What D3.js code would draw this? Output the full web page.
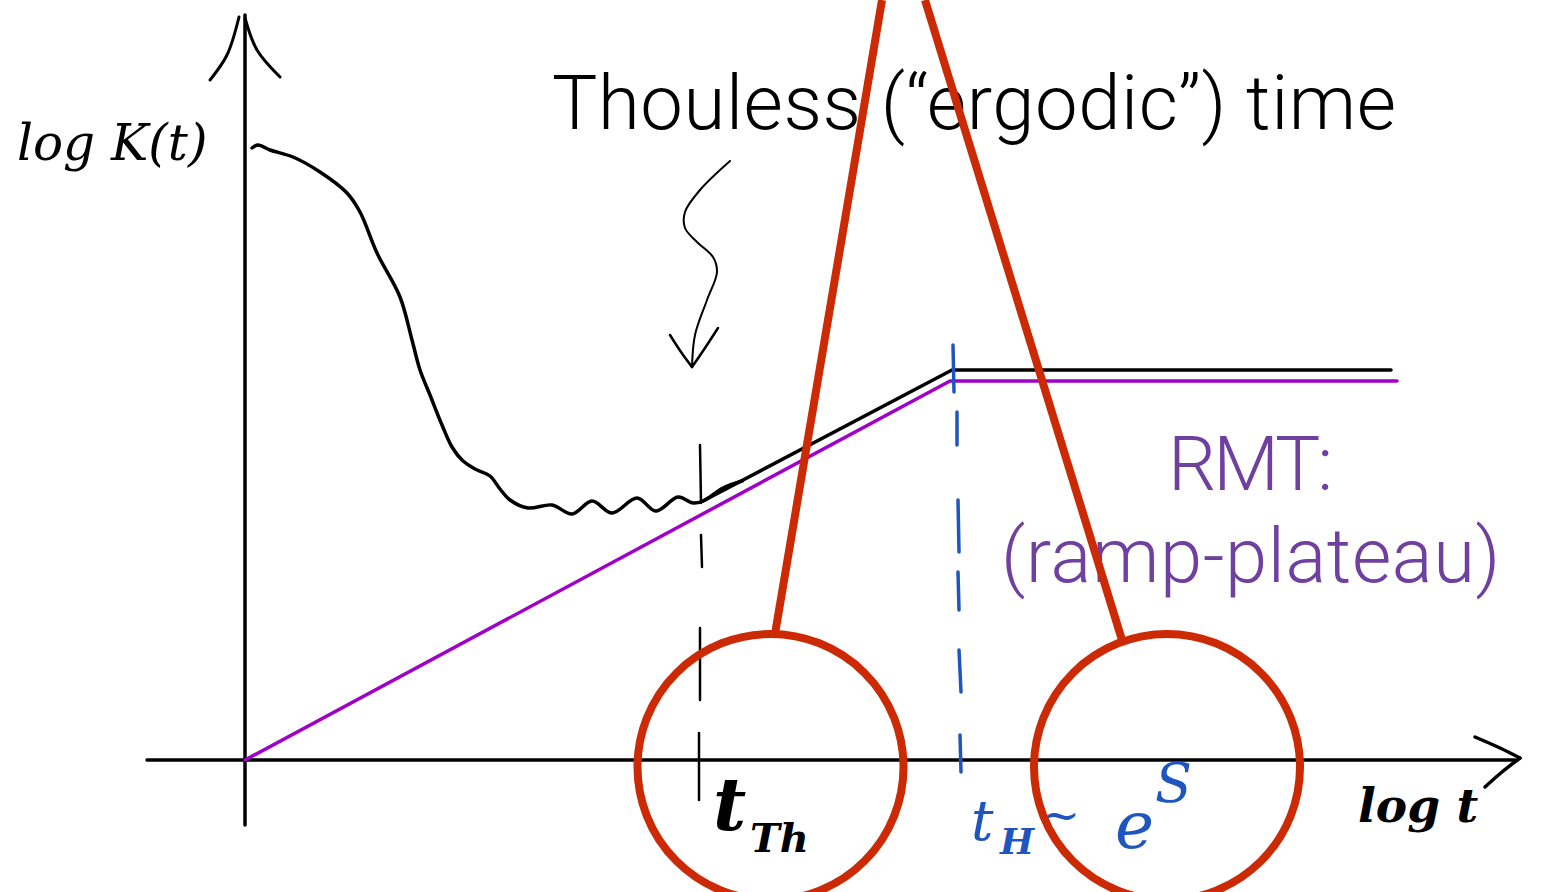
<!DOCTYPE html>
<html><head><meta charset="utf-8">
<script src="https://cdn.jsdelivr.net/npm/d3@7"></script>
<style>html,body{margin:0;padding:0;background:#fff;overflow:hidden}svg{display:block}</style>
</head><body><svg id="c" width="1544" height="892"></svg>
<script>
// All values are [log t, log K] in the sketch's arbitrary units.
const spectralCurve=[[7,612],[13,615],[25,610],[48,603],[75,588],[102,567],[115,548],[132,507],[155,463],[167,420],[175,390],[185,365],[197,335],[207,313],[217,300],[230,291],[245,284],[255,271],[265,260],[283,252],[307,255],[327,246],[347,259],[367,247],[392,262],[411,249],[433,263],[448,257],[458,259],[478,272],[497,279]];
const rampPlateauBlack=[[458,259],[707,390],[1146,390]];
const rmtPurple=[[0,0],[705,379],[1152,379]];
const axisY=[[0,-65],[0,745]];
const axisX=[[-98,0],[1270,0]];
const arrowY=[[[-35,680],[-18,705],[-6,743]],[[0,742],[12,710],[35,683]]];
const arrowX=[[[1230,23],[1255,12],[1275,2]],[[1240,-27],[1257,-12],[1275,2]]];
const thoulessDash=[[[455,315],[456,257]],[[456,225],[457,193]],[[455,132],[455,60]],[[454,27],[454,-40]]];
const heisenbergDash=[[[708,415],[709,368]],[[712,348],[712,315]],[[713,260],[714,208]],[[713,188],[714,150]],[[714,110],[716,68]],[[715,25],[716,-12]]];
const wavyArrow=[[485,599],[455,570],[440,548],[440,532],[452,518],[468,503],[472,488],[462,460],[450,425],[447,393]];
const wavyHead=[[[425,425],[436,408],[447,393]],[[473,432],[460,412],[447,393]]];
const redLines=[[[637,760],[530,126]],[[680,760],[877,120]]];
const redCircles=[{x:525.5,y:-7},{x:922,y:-7}];
const redRadius=133;
const titleText="Thouless (“ergodic”) time";
const rmtLabels=["RMT:","(ramp-plateau)"];

const W=1544,H=892;
const x=d3.scaleLinear().domain([-245,1299]).range([0,W]);
const y=d3.scaleLinear().domain([-132,760]).range([H,0]);
const svg=d3.select("#c");
const smooth=d3.line().x(d=>x(d[0])).y(d=>y(d[1])).curve(d3.curveCatmullRom.alpha(0.5));
const straight=d3.line().x(d=>x(d[0])).y(d=>y(d[1]));
const stroke=(sel,col,w)=>sel.attr("fill","none").attr("stroke",col).attr("stroke-width",w).attr("stroke-linecap","round").attr("stroke-linejoin","round");

const BLACK="#000",PURPLE="#a000c8",BLUE="#1f55c0",RED="#cc2a05",TXT="#7040a0";
// axes
svg.append("path").attr("d",straight(axisY)).call(stroke,BLACK,3.5);
svg.append("path").attr("d",straight(axisX)).call(stroke,BLACK,3.5);
arrowY.forEach(a=>svg.append("path").attr("d",smooth(a)).call(stroke,BLACK,3));
arrowX.forEach(a=>svg.append("path").attr("d",smooth(a)).call(stroke,BLACK,3.5));
// series
svg.append("path").attr("d",straight(rmtPurple)).call(stroke,PURPLE,3.5);
svg.append("path").attr("d",straight(rampPlateauBlack)).call(stroke,BLACK,3.5);
svg.append("path").attr("d",smooth(spectralCurve)).call(stroke,BLACK,3.5);
// dashes
thoulessDash.forEach(a=>svg.append("path").attr("d",straight(a)).call(stroke,BLACK,2.5));
heisenbergDash.forEach(a=>svg.append("path").attr("d",straight(a)).call(stroke,BLUE,3.5));
// wavy arrow
svg.append("path").attr("d",smooth(wavyArrow)).call(stroke,BLACK,2);
wavyHead.forEach(a=>svg.append("path").attr("d",smooth(a)).call(stroke,BLACK,2.5));
// big text
const big=(t,px,py,col,ls)=>svg.append("text").attr("x",px).attr("y",py).attr("fill",col)
  .attr("font-family","Roboto, 'Liberation Sans', sans-serif").attr("font-weight",300).attr("font-size",76).attr("letter-spacing",ls).text(t);
big(titleText,x(307),y(631),BLACK,0.6);
big(rmtLabels[0],x(923),y(270),TXT,-3);
big(rmtLabels[1],x(756),y(178),TXT,0.6);
// handwritten-style labels
const hand=(t,lx,ly,size,col,w)=>svg.append("text").attr("x",x(lx)).attr("y",y(ly)).attr("fill",col)
  .attr("font-family","'DejaVu Serif', serif").attr("font-style","italic").attr("font-weight",w||400).attr("font-size",size).text(t);
hand("log K(t)",-228,600,50,BLACK);
hand("log t",1113,-62,47,BLACK,700);
hand("t",468,-70,72,BLACK,700);
hand("Th",505,-92,40,BLACK,700);
hand("t",726,-80,56,BLUE);
hand("H",755,-94,36,BLUE,700);
hand("~",795,-72,48,BLUE);
hand("e",870,-88,66,BLUE);
hand("S",910,-42,54,BLUE);
// red callouts
redLines.forEach(a=>{
  svg.append("path").attr("d",straight(a)).call(stroke,RED,8).attr("stroke-linecap","butt");
});
svg.selectAll("circle").data(redCircles).enter().append("circle")
  .attr("cx",d=>x(d.x)).attr("cy",d=>y(d.y)).attr("r",redRadius)
  .attr("fill","none").attr("stroke",RED).attr("stroke-width",8);
</script></body></html>
